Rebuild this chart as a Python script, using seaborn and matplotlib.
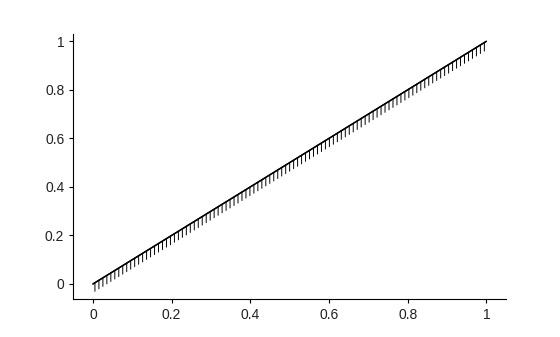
import numpy as np
import pandas as pd
import matplotlib
matplotlib.use("Agg")
import matplotlib.pyplot as plt
import matplotlib.patheffects as pe
import seaborn as sns

# Data: the line y = x from 0 to 1
x_vals = [0.0, 1.0]
y_vals = [0.0, 1.0]
x_ticks = [0, 0.2, 0.4, 0.6, 0.8, 1]
x_ticklabels = ["0", "0.2", "0.4", "0.6", "0.8", "1"]
y_ticks = [0, 0.2, 0.4, 0.6, 0.8, 1]
y_ticklabels = ["0", "0.2", "0.4", "0.6", "0.8", "1"]

sns.set_theme(style="ticks")
plt.rcParams["font.family"] = ["Liberation Sans", "DejaVu Sans"]
plt.rcParams["font.size"] = 10

fig = plt.figure(figsize=(5.6, 3.37), dpi=100)
ax = fig.add_axes([0.1309, 0.1128, 0.9036 - 0.1309, 0.899 - 0.1128])

df = pd.DataFrame({"x": x_vals, "y": y_vals})
sns.lineplot(data=df, x="x", y="y", ax=ax, color="black", linewidth=1.0,
             path_effects=[pe.withTickedStroke(spacing=3.33, angle=-121.7,
                                               length=1.85, linewidth=0.7),
                           pe.Normal()])

ax.set_xlim(-0.05, 1.05)
ax.set_ylim(-0.062, 1.03)
ax.set_xticks(x_ticks)
ax.set_xticklabels(x_ticklabels)
ax.set_yticks(y_ticks)
ax.set_yticklabels(y_ticklabels)
ax.set_xlabel("")
ax.set_ylabel("")
ax.tick_params(axis="both", length=3, width=0.8, colors="black",
               labelsize=10, labelcolor="#222222")
for s in ["left", "bottom"]:
    ax.spines[s].set_color("black")
    ax.spines[s].set_linewidth(0.8)
sns.despine(ax=ax)

fig.savefig("out.png", dpi=100)
